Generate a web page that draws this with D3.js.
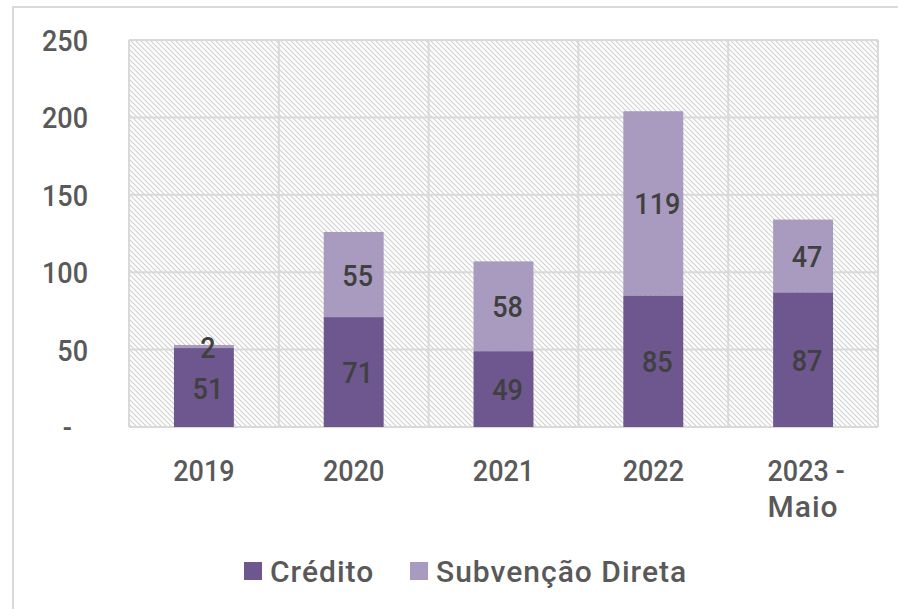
<!DOCTYPE html>
<html><head><meta charset="utf-8">
<script src="https://cdn.jsdelivr.net/npm/d3@7"></script>
<style>
html,body{margin:0;padding:0;background:#fff;}
svg{display:block;}
text{font-family:"Roboto","DejaVu Sans",sans-serif;font-weight:500;fill:#595959;}
</style></head>
<body>
<svg id="chart" width="898" height="609"></svg>
<script>
const categories = ["2019","2020","2021","2022","2023 -\nMaio"];
const credito = [51,71,49,85,87];
const subvencao = [2,55,58,119,47];
const seriesNames = ["Crédito","Subvenção Direta"];
const yTicks = [0,50,100,150,200,250];
const colors = ["#6E568F","#A99BBF"];

const FS = 30;

const svg = d3.select("#chart");
const W = 898, H = 609;
const m = {left:129, right:878, top:40, bottom:427};

function ctext(g, x0, y0, str, anchor, fill){
  str = String(str);
  const hasLetters = /[A-Za-zÀ-ÿ]/.test(str);
  const sx = hasLetters ? 1.0 : 0.9;
  const gg = g.append("g").attr("transform",`translate(${x0},${y0}) scale(${sx},1)`);
  return gg.append("text").attr("x",0).attr("y",0).attr("text-anchor",anchor)
    .attr("font-size",FS).attr("letter-spacing", hasLetters ? 1 : 0)
    .style("fill",fill).text(str);
}

// outer border
svg.append("rect").attr("x",13).attr("y",7).attr("width",W).attr("height",H)
  .attr("fill","#fff").attr("stroke","#d9d9d9").attr("stroke-width",2);

// hatch pattern
const defs = svg.append("defs");
const P = 5;
const pat = defs.append("pattern").attr("id","hatch").attr("patternUnits","userSpaceOnUse")
  .attr("width",P).attr("height",P);
pat.append("rect").attr("width",P).attr("height",P).attr("fill","#fff");
pat.append("path").attr("d",`M-1,-1 L${P+1},${P+1} M-1,${P-1} L1,${P+1} M${P-1},-1 L${P+1},1`)
  .attr("stroke","#d0d0d0").attr("stroke-width",1.1);

const x = d3.scaleBand().domain(categories).range([m.left,m.right]).paddingInner(0.6).paddingOuter(0.3);
const y = d3.scaleLinear().domain([0,250]).range([m.bottom,m.top]);

svg.append("rect").attr("x",m.left).attr("y",m.top).attr("width",m.right-m.left).attr("height",m.bottom-m.top)
  .attr("fill","url(#hatch)");

// horizontal gridlines
svg.append("g").selectAll("line").data(yTicks).join("line")
  .attr("x1",m.left).attr("x2",m.right).attr("y1",d=>y(d)).attr("y2",d=>y(d))
  .attr("stroke","#d9d9d9").attr("stroke-width",2);
// vertical gridlines at band boundaries
const bounds = d3.range(categories.length+1).map(i=>m.left + i*(m.right-m.left)/categories.length);
svg.append("g").selectAll("line").data(bounds).join("line")
  .attr("x1",d=>d).attr("x2",d=>d).attr("y1",m.top).attr("y2",m.bottom)
  .attr("stroke","#d9d9d9").attr("stroke-width",2);

// stacked bars
const data = categories.map((c,i)=>({cat:c, v0:credito[i], v1:subvencao[i]}));
const stack = d3.stack().keys(["v0","v1"])(data);
stack.forEach((layer,li)=>{
  svg.append("g").selectAll("rect").data(layer).join("rect")
    .attr("x",d=>x(d.data.cat)).attr("width",x.bandwidth())
    .attr("y",d=>y(d[1])).attr("height",d=>y(d[0])-y(d[1]))
    .attr("fill",colors[li]);
});
const lblG = svg.append("g");
stack.forEach((layer)=>{
  layer.forEach(d=>{
    ctext(lblG, x(d.data.cat)+x.bandwidth()/2+4, (y(d[0])+y(d[1]))/2 + 11, d[1]-d[0], "middle", "#404040");
  });
});

// y axis labels
const gy = svg.append("g");
yTicks.forEach(t=>{
  ctext(gy, t===0?72:88, y(t)+11, t===0?"-":t, "end", "#595959");
});

// x axis labels
const gx = svg.append("g");
categories.forEach(c=>{
  const lines = c.split("\n");
  const cx = x(c)+x.bandwidth()/2;
  lines.forEach((l,i)=>{
    ctext(gx, cx + (i===0&&lines.length>1?3:0), m.bottom+54+i*36, l, "middle", "#595959");
  });
});

// legend
const legX = [244,410];
seriesNames.forEach((n,i)=>{
  svg.append("rect").attr("x",legX[i]).attr("y",562).attr("width",18).attr("height",18).attr("fill",colors[i]);
  ctext(svg, legX[i]+26, 582, n, "start", "#595959");
});
</script>
</body></html>
